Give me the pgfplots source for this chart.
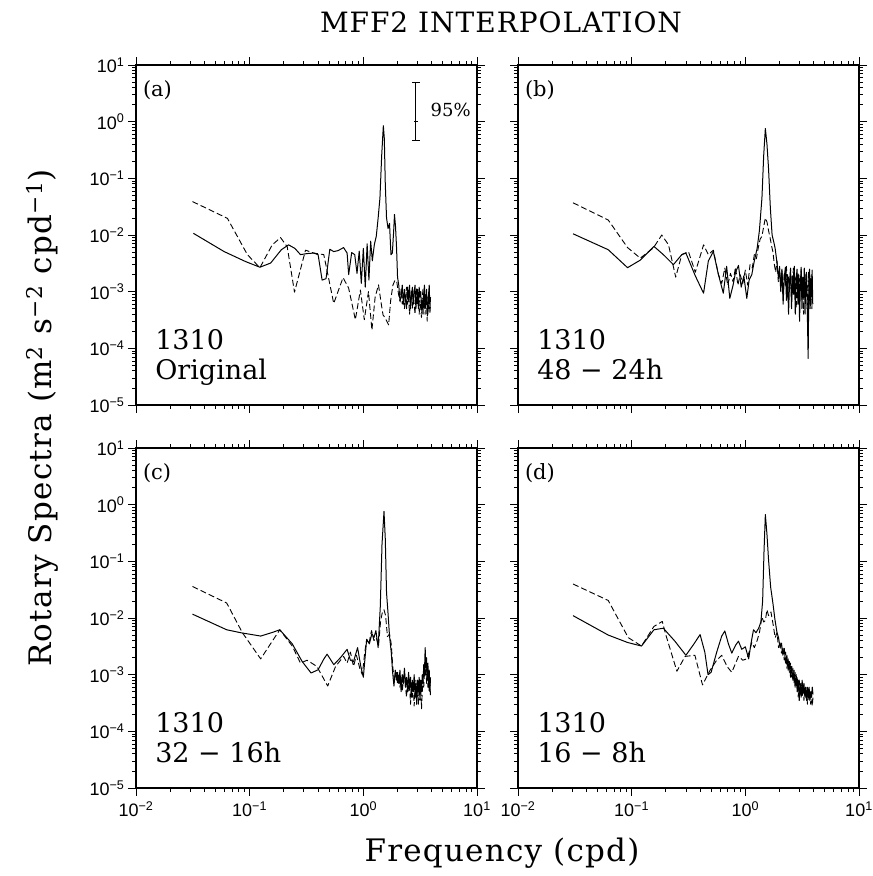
\documentclass[border=0pt]{standalone}
\usepackage{pgfplots}
\pgfplotsset{compat=1.18}
\usepackage{fontspec}
\setmainfont{DejaVu Serif}
\newfontfamily\tickfont{Liberation Sans}
\newfontfamily\titlefont[LetterSpace=3.5]{DejaVu Serif}
\newfontfamily\labfont[LetterSpace=4]{DejaVu Serif}

\pgfplotsset{every axis/.append style={
    xmin=0.01, xmax=10, ymin=1e-5, ymax=10,
    scale only axis, width=341pt, height=340pt,
    xtick={0.01,0.1,1,10}, ytick={1e-5,1e-4,1e-3,1e-2,1e-1,1,10},
    minor xtick={0.02,0.03,0.04,0.05,0.06,0.07,0.08,0.09,0.2,0.3,0.4,0.5,0.6,0.7,0.8,0.9,2,3,4,5,6,7,8,9},
    minor ytick={2e-5,3e-5,4e-5,5e-5,6e-5,7e-5,8e-5,9e-5,2e-4,3e-4,4e-4,5e-4,6e-4,7e-4,8e-4,9e-4,2e-3,3e-3,4e-3,5e-3,6e-3,7e-3,8e-3,9e-3,0.02,0.03,0.04,0.05,0.06,0.07,0.08,0.09,0.2,0.3,0.4,0.5,0.6,0.7,0.8,0.9,2,3,4,5,6,7,8,9},
    tick align=outside, major tick length=8pt, minor tick length=4pt,
    axis line style={line width=1.3pt},
    every tick/.style={black, line width=0.8pt},
    tick label style={font=\tickfont\fontsize{18}{18}\selectfont},
    xticklabel style={yshift=-2pt},
  }}
\tikzset{
  sol/.style={black, line width=1.0pt, line join=round},
  das/.style={black, line width=0.9pt, dash pattern=on 6pt off 3pt, line join=round},
}
\newcommand{\ptxt}[3]{%
  \node[anchor=north west, inner sep=0pt, font=\fontsize{21}{21}\selectfont] at (rel axis cs:0.02,0.955) {#1};
  \node[anchor=base west, inner sep=0pt, font=\fontsize{27}{27}\selectfont] at (rel axis cs:0.056,0.162) {#2};
  \node[anchor=base west, inner sep=0pt, font=\fontsize{27}{27}\selectfont] at (rel axis cs:0.056,0.074) {#3};
}

\begin{document}
\begin{tikzpicture}[x=1pt,y=1pt]
\path[use as bounding box] (0,0) rectangle (873,876);

% ---------------- (a) ----------------
\begin{loglogaxis}[at={(136pt,471pt)}, anchor=south west,
  xticklabels={},
  yticklabels={10\textsuperscript{−5},10\textsuperscript{−4},10\textsuperscript{−3},10\textsuperscript{−2},10\textsuperscript{−1},10\textsuperscript{0},10\textsuperscript{1}}]
\addplot[das] coordinates {
(0.0314,0.0389)(0.0637,0.0197)(0.0955,0.0045)(0.123,0.00265)(0.158,0.0067)(0.187,0.009)(0.214,0.0062)(0.248,0.00098)(0.31,0.0054)(0.366,0.0048)(0.449,0.0045)(0.549,0.00062)(0.663,0.00177)(0.743,0.00115)(0.851,0.00032)(0.942,0.00107)(1.02,0.00032)(1.11,0.001)(1.19,0.00021)(1.27,0.0008)(1.36,0.00132)(1.44,0.0006)(1.49,0.00039)(1.56,0.00034)(1.67,0.00026)(1.74,0.0007)(1.82,0.0013)(1.9,0.0016)(1.97,0.0015)(2.04,0.0009)(2.11,0.00066)
(2.15,0.0011)(2.2,0.0006)(2.25,0.0009)(2.3,0.0005)(2.35,0.0008)(2.4,0.0012)(2.45,0.0006)(2.5,0.0008)(2.55,0.0004)(2.6,0.0007)(2.65,0.0011)(2.7,0.0005)(2.75,0.0009)(2.8,0.0006)(2.85,0.0004)(2.9,0.0008)(2.95,0.0012)(3.0,0.0006)(3.05,0.0009)(3.1,0.0004)(3.15,0.0007)(3.2,0.0005)(3.25,0.00035)(3.3,0.0008)(3.35,0.0011)(3.4,0.0005)(3.45,0.0007)(3.5,0.0004)(3.55,0.0009)(3.6,0.0006)(3.65,0.0003)(3.7,0.0008)(3.75,0.0005)(3.8,0.0010)(3.85,0.0004)(3.9,0.0006)};
\addplot[sol] coordinates {
(0.032,0.0107)(0.0596,0.0051)(0.092,0.0034)(0.123,0.0027)(0.153,0.0032)(0.19,0.0055)(0.22,0.0067)(0.25,0.0058)(0.28,0.0045)(0.32,0.0047)(0.366,0.0048)(0.4,0.0045)(0.434,0.0016)(0.47,0.0017)(0.507,0.0056)(0.549,0.0051)(0.6,0.0053)(0.67,0.006)(0.72,0.0048)(0.743,0.002)(0.79,0.0049)(0.84,0.0045)(0.88,0.0021)(0.92,0.0052)(0.96,0.0014)(1.0,0.0058)(1.04,0.0012)(1.08,0.007)(1.12,0.0016)(1.16,0.0078)(1.2,0.0035)(1.25,0.0068)(1.3,0.0095)(1.35,0.02)(1.4,0.045)(1.45,0.25)(1.5,0.85)(1.53,0.5)(1.56,0.08)(1.6,0.02)(1.65,0.013)(1.7,0.016)(1.75,0.0045)(1.8,0.0048)(1.85,0.012)(1.88,0.023)(1.92,0.014)(1.96,0.006)(2.0,0.0018)(2.05,0.0013)(2.1,0.0007)
(2.15,0.0008)(2.2,0.0013)(2.25,0.0006)(2.3,0.0011)(2.35,0.0007)(2.4,0.0005)(2.45,0.0012)(2.5,0.0007)(2.55,0.0013)(2.6,0.0005)(2.65,0.0008)(2.7,0.0012)(2.75,0.0006)(2.8,0.0010)(2.85,0.0013)(2.9,0.0005)(2.95,0.0008)(3.0,0.0011)(3.05,0.0005)(3.1,0.0012)(3.15,0.0008)(3.2,0.0010)(3.25,0.0005)(3.3,0.0007)(3.35,0.0004)(3.4,0.0009)(3.45,0.0013)(3.5,0.0005)(3.55,0.0007)(3.6,0.0011)(3.65,0.0005)(3.7,0.0004)(3.75,0.0009)(3.8,0.0013)(3.85,0.0005)(3.9,0.0008)};
\addplot[black, line width=1pt, mark=-, mark size=4pt, mark options={solid, line width=1.2pt}] coordinates {(2.88,4.9)(2.88,0.46)};
\addplot[black, only marks, mark=-, mark size=2pt, mark options={line width=1pt}] coordinates {(2.88,1)};
\node[anchor=west, inner sep=0pt, font=\fontsize{18}{18}\selectfont] at (axis cs:3.9,1.6) {95\%};
\ptxt{(a)}{1310}{Original}
\end{loglogaxis}

% ---------------- (b) ----------------
\begin{loglogaxis}[at={(518pt,471pt)}, anchor=south west, xticklabels={}, yticklabels={}]
\addplot[das] coordinates {
(0.0305,0.037)(0.0622,0.0184)(0.092,0.006)(0.119,0.0039)(0.155,0.0059)(0.184,0.01)(0.211,0.0067)(0.244,0.0018)(0.276,0.0045)(0.316,0.0051)(0.363,0.0022)(0.429,0.0067)(0.473,0.0045)(0.523,0.0054)(0.58,0.002)(0.62,0.0014)(0.66,0.0026)(0.7,0.0013)(0.74,0.0021)(0.78,0.0015)(0.82,0.0027)(0.86,0.0013)(0.9,0.002)(0.95,0.0014)(1.0,0.0024)(1.05,0.0013)(1.1,0.003)(1.15,0.0026)(1.2,0.0045)(1.25,0.0038)(1.3,0.006)(1.35,0.0085)(1.4,0.0095)(1.45,0.014)(1.5,0.02)(1.55,0.017)(1.6,0.012)(1.65,0.009)(1.7,0.0065)(1.75,0.005)(1.8,0.003)(1.85,0.0022)(1.9,0.0035)(1.95,0.0015)(2.0,0.0028)
(2.05,0.0012)(2.1,0.0025)(2.15,0.0009)(2.2,0.0021)(2.25,0.0013)(2.3,0.0028)(2.35,0.0008)(2.4,0.0019)(2.45,0.0011)(2.5,0.0024)(2.55,0.0007)(2.6,0.0016)(2.65,0.0026)(2.7,0.0009)(2.75,0.0018)(2.8,0.0005)(2.85,0.0014)(2.9,0.0022)(2.95,0.0006)(3.0,0.0017)(3.05,0.0010)(3.1,0.0025)(3.15,0.0007)(3.2,0.0015)(3.25,0.0004)(3.3,0.0013)(3.35,0.0021)(3.4,0.0008)(3.45,0.0017)(3.5,0.0005)(3.55,0.0012)(3.6,0.0022)(3.65,0.0006)(3.7,0.0014)(3.75,0.0009)(3.8,0.0020)(3.85,0.0005)(3.9,0.0011)};
\addplot[sol] coordinates {
(0.0305,0.0105)(0.0622,0.0055)(0.092,0.00265)(0.119,0.0036)(0.157,0.0063)(0.19,0.0045)(0.233,0.003)(0.276,0.0045)(0.3,0.0048)(0.363,0.0019)(0.429,0.00094)(0.473,0.0035)(0.523,0.0051)(0.58,0.002)(0.64,0.00094)(0.685,0.0028)(0.73,0.00076)(0.78,0.0013)(0.82,0.0022)(0.87,0.0029)(0.92,0.0012)(0.97,0.0019)(1.03,0.00076)(1.08,0.0016)(1.14,0.002)(1.2,0.0035)(1.27,0.0058)(1.33,0.012)(1.4,0.045)(1.45,0.25)(1.5,0.76)(1.55,0.4)(1.6,0.15)(1.66,0.03)(1.72,0.01)(1.78,0.0075)(1.83,0.0058)(1.9,0.0032)(1.96,0.0017)(2.0,0.0026)
(2.05,0.0010)(2.1,0.0024)(2.15,0.0006)(2.2,0.0018)(2.25,0.0027)(2.3,0.0007)(2.35,0.0020)(2.4,0.0004)(2.45,0.0015)(2.5,0.0026)(2.55,0.0005)(2.6,0.0019)(2.65,0.0009)(2.7,0.0028)(2.75,0.0004)(2.8,0.0016)(2.85,0.0025)(2.9,0.0006)(2.95,0.0020)(3.0,0.0003)(3.05,0.0014)(3.1,0.0027)(3.15,0.0005)(3.2,0.0018)(3.25,0.0009)(3.3,0.0026)(3.35,0.0004)(3.4,0.0015)(3.45,0.0022)(3.5,0.0006)(3.57,0.000066)(3.62,0.0013)(3.67,0.0025)(3.72,0.0005)(3.77,0.0017)(3.82,0.0008)(3.87,0.0024)(3.92,0.0006)};
\ptxt{(b)}{1310}{48 − 24h}
\end{loglogaxis}

% ---------------- (c) ----------------
\begin{loglogaxis}[at={(136pt,88pt)}, anchor=south west,
  xticklabels={10\textsuperscript{−2},10\textsuperscript{−1},10\textsuperscript{0},10\textsuperscript{1}},
  yticklabels={10\textsuperscript{−5},10\textsuperscript{−4},10\textsuperscript{−3},10\textsuperscript{−2},10\textsuperscript{−1},10\textsuperscript{0},10\textsuperscript{1}}]
\addplot[das] coordinates {
(0.0314,0.036)(0.0628,0.0184)(0.0863,0.0055)(0.125,0.0019)(0.184,0.0062)(0.237,0.0032)(0.28,0.0016)(0.32,0.0018)(0.39,0.0014)(0.486,0.00063)(0.57,0.0014)(0.67,0.0021)(0.72,0.0016)(0.77,0.0025)(0.82,0.0014)(0.87,0.0022)(0.93,0.0013)(0.98,0.001)(1.03,0.0025)(1.07,0.0042)(1.12,0.0035)(1.18,0.006)(1.24,0.004)(1.3,0.0045)(1.36,0.0032)(1.42,0.009)(1.47,0.0125)(1.52,0.014)(1.57,0.011)(1.63,0.0047)(1.7,0.0052)(1.76,0.0035)(1.82,0.0013)(1.88,0.0008)(1.95,0.0011)(2.0,0.0007)
(2.05,0.0010)(2.1,0.0006)(2.15,0.0009)(2.2,0.0005)(2.25,0.0008)(2.3,0.0011)(2.35,0.0006)(2.4,0.0004)(2.45,0.0008)(2.5,0.0005)(2.55,0.0007)(2.6,0.0003)(2.65,0.0006)(2.7,0.0004)(2.75,0.0007)(2.8,0.00028)(2.85,0.0005)(2.9,0.0008)(2.95,0.0004)(3.0,0.0006)(3.05,0.0003)(3.1,0.0007)(3.15,0.00035)(3.2,0.0006)(3.25,0.00025)(3.3,0.0005)(3.35,0.0008)(3.4,0.0006)(3.45,0.0012)(3.5,0.0009)(3.55,0.0016)(3.6,0.0007)(3.65,0.0013)(3.7,0.0006)(3.75,0.0010)(3.8,0.0005)(3.85,0.0008)(3.9,0.0004)};
\addplot[sol] coordinates {
(0.0314,0.0117)(0.0628,0.0062)(0.0834,0.0055)(0.125,0.0048)(0.16,0.0056)(0.184,0.0062)(0.237,0.0035)(0.29,0.0017)(0.347,0.00107)(0.4,0.00122)(0.45,0.0019)(0.48,0.0023)(0.55,0.0015)(0.63,0.002)(0.72,0.0028)(0.77,0.0018)(0.82,0.0017)(0.89,0.003)(0.95,0.0014)(1.0,0.0009)(1.07,0.0042)(1.13,0.0035)(1.19,0.0053)(1.24,0.0045)(1.29,0.006)(1.35,0.003)(1.41,0.016)(1.46,0.2)(1.52,0.76)(1.56,0.25)(1.6,0.028)(1.65,0.012)(1.7,0.0048)(1.76,0.0025)(1.81,0.0011)(1.86,0.00063)(1.91,0.0012)(1.96,0.0008)(2.0,0.0011)
(2.05,0.0007)(2.1,0.0012)(2.15,0.0005)(2.2,0.0010)(2.25,0.0007)(2.3,0.0013)(2.35,0.0006)(2.4,0.0009)(2.45,0.0005)(2.5,0.0011)(2.55,0.0006)(2.6,0.0009)(2.65,0.0004)(2.7,0.0008)(2.75,0.0005)(2.8,0.0010)(2.85,0.0004)(2.9,0.0007)(2.95,0.0003)(3.0,0.0008)(3.05,0.0005)(3.1,0.0009)(3.15,0.0004)(3.2,0.0008)(3.25,0.0005)(3.3,0.0010)(3.35,0.0007)(3.4,0.0015)(3.45,0.0011)(3.5,0.0030)(3.55,0.0013)(3.6,0.0020)(3.65,0.0008)(3.7,0.0016)(3.75,0.0006)(3.8,0.0012)(3.85,0.0005)(3.9,0.0009)};
\ptxt{(c)}{1310}{32 − 16h}
\end{loglogaxis}

% ---------------- (d) ----------------
\begin{loglogaxis}[at={(518pt,88pt)}, anchor=south west,
  xticklabels={10\textsuperscript{−2},10\textsuperscript{−1},10\textsuperscript{0},10\textsuperscript{1}},
  yticklabels={}]
\addplot[das] coordinates {
(0.0305,0.0398)(0.0622,0.0204)(0.0934,0.0045)(0.122,0.0032)(0.157,0.0071)(0.186,0.0087)(0.2,0.005)(0.25,0.00115)(0.295,0.0021)(0.36,0.0022)(0.42,0.00066)(0.49,0.0012)(0.56,0.0018)(0.62,0.0022)(0.69,0.0014)(0.76,0.0011)(0.87,0.0021)(0.95,0.0018)(1.03,0.0019)(1.1,0.0028)(1.14,0.0037)(1.2,0.003)(1.27,0.004)(1.33,0.0055)(1.4,0.0105)(1.45,0.0085)(1.5,0.009)(1.55,0.014)(1.6,0.011)(1.68,0.0128)(1.75,0.008)(1.83,0.0045)(1.9,0.0055)(1.96,0.003)(2.02,0.0038)
(2.08,0.0024)(2.14,0.0031)(2.2,0.0018)(2.26,0.0025)(2.32,0.0013)(2.38,0.0019)(2.44,0.0011)(2.5,0.0016)(2.56,0.0009)(2.62,0.0013)(2.68,0.0007)(2.74,0.0011)(2.8,0.0006)(2.86,0.0009)(2.92,0.0004)(2.98,0.0008)(3.04,0.0005)(3.1,0.0007)(3.16,0.0004)(3.22,0.0006)(3.28,0.00035)(3.34,0.0006)(3.4,0.0004)(3.46,0.00055)(3.52,0.0003)(3.58,0.0005)(3.64,0.00035)(3.7,0.0005)(3.76,0.0003)(3.82,0.00045)(3.88,0.00028)(3.94,0.0004)};
\addplot[sol] coordinates {
(0.0305,0.011)(0.0622,0.005)(0.092,0.0037)(0.122,0.0032)(0.157,0.0062)(0.19,0.0066)(0.24,0.0039)(0.3,0.0022)(0.35,0.0034)(0.4,0.0051)(0.44,0.0025)(0.47,0.001)(0.5,0.0011)(0.56,0.0025)(0.62,0.0048)(0.66,0.0059)(0.71,0.0035)(0.76,0.0024)(0.82,0.0033)(0.87,0.0039)(0.93,0.0028)(1.0,0.0031)(1.07,0.0019)(1.12,0.0035)(1.18,0.0062)(1.24,0.0055)(1.31,0.0066)(1.37,0.0085)(1.42,0.02)(1.46,0.15)(1.5,0.67)(1.55,0.3)(1.6,0.107)(1.67,0.035)(1.75,0.018)(1.82,0.0095)(1.9,0.0055)(1.96,0.0045)(2.02,0.003)
(2.08,0.0036)(2.14,0.0022)(2.2,0.0029)(2.26,0.0016)(2.32,0.0022)(2.38,0.0012)(2.44,0.0017)(2.5,0.0009)(2.56,0.0014)(2.62,0.0008)(2.68,0.0012)(2.74,0.0006)(2.8,0.0010)(2.86,0.0005)(2.92,0.0008)(2.98,0.00035)(3.04,0.0007)(3.1,0.0004)(3.16,0.0008)(3.22,0.0005)(3.28,0.0007)(3.34,0.0004)(3.4,0.0006)(3.46,0.00035)(3.52,0.0006)(3.58,0.0004)(3.64,0.0006)(3.7,0.00035)(3.76,0.0005)(3.82,0.0004)(3.88,0.0006)(3.94,0.00045)};
\ptxt{(d)}{1310}{16 − 8h}
\end{loglogaxis}

% titles and axis labels
\node[font=\titlefont\fontsize{28}{28}\selectfont] at (501,854) {MFF2 INTERPOLATION};
\node[font=\labfont\fontsize{31}{31}\selectfont] at (502,22.5) {Frequency (cpd)};
\node[rotate=90, font=\labfont\fontsize{31}{31}\selectfont] at (42,458) {Rotary Spectra (m\textsuperscript{2} s\textsuperscript{−2} cpd\textsuperscript{−1})};
\end{tikzpicture}
\end{document}
